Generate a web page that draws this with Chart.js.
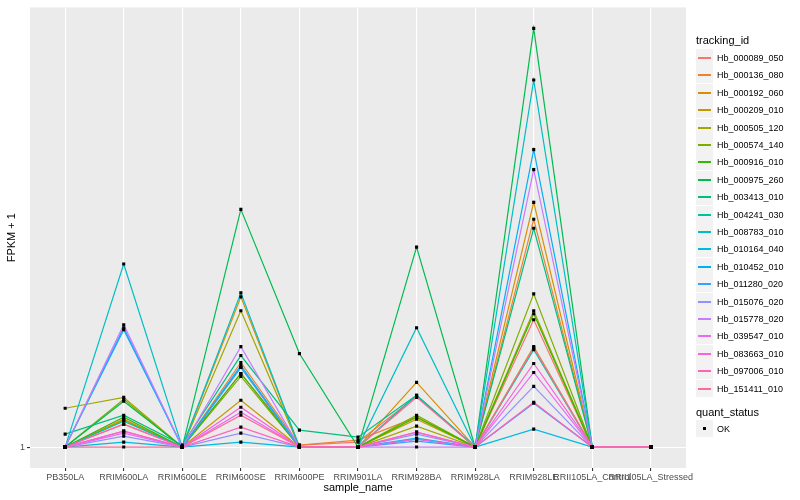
<!DOCTYPE html>
<html>
<head>
<meta charset="utf-8">
<script src="https://cdn.jsdelivr.net/npm/chart.js@4.4.1/dist/chart.umd.min.js"></script>
<style>
    body { margin: 0; background: #fff; font-family: "Liberation Sans", Arial, sans-serif; }
    #wrap { position: relative; width: 800px; height: 500px; }
    #legend { position: absolute; left: 696px; top: 0; width: 104px; height: 500px; font-size: 9px; color: #000; }
    .ttl { position: absolute; left: 0; font-size: 11px; line-height: 14px; }
    .row { position: absolute; left: 0; height: 17px; display: flex; align-items: center; }
    .key { width: 17px; height: 17px; background: #F2F2F2; position: relative; margin-right: 4px; }
    .key i { position: absolute; left: 2px; right: 2px; top: 8px; height: 2px; }
    .key b { position: absolute; left: 7px; top: 7px; width: 3px; height: 3px; background: #000; }
</style>
</head>
<body>
<div id="wrap">
    <canvas id="chart" width="800" height="500"></canvas>
    <div id="legend"></div>
</div>
<script>
// data (FPKM + 1)
const sampleNames = ['PB350LA', 'RRIM600LA', 'RRIM600LE', 'RRIM600SE', 'RRIM600PE', 'RRIM901LA',
    'RRIM928BA', 'RRIM928LA', 'RRIM928LE', 'RRII105LA_Control', 'RRII105LA_Stressed'];
const trackingIds = ['Hb_000089_050', 'Hb_000136_080', 'Hb_000192_060', 'Hb_000209_010', 'Hb_000505_120',
    'Hb_000574_140', 'Hb_000916_010', 'Hb_000975_260', 'Hb_003413_010', 'Hb_004241_030',
    'Hb_008783_010', 'Hb_010164_040', 'Hb_010452_010', 'Hb_011280_020', 'Hb_015076_020',
    'Hb_015778_020', 'Hb_039547_010', 'Hb_083663_010', 'Hb_097006_010', 'Hb_151411_010'];
const colors = ['#F8766D', '#EA8331', '#D89000', '#C09B00', '#A3A500', '#7CAE00', '#39B600', '#00BB4E',
    '#00BF7D', '#00C1A3', '#00BFC4', '#00BAE0', '#00B0F6', '#35A2FF', '#9590FF', '#C77CFF',
    '#E76BF3', '#FA62DB', '#FF62BC', '#FF6A98'];
const fpkm = [
    [1, 5, 1, 19.5, 1.5, 2.25, 13.75, 1, 33, 1, 1],
    [1, 6.75, 1, 22.25, 1.5, 2.75, 8.5, 1, 58.25, 1, 1],
    [1, 8, 1, 38.75, 1, 1, 17.25, 1, 62.5, 1, 1],
    [1, 7.75, 1, 12.75, 1, 1, 8, 1, 26.25, 1, 1],
    [10.75, 13.5, 1, 35.25, 1, 1, 6.25, 1, 35.25, 1, 1],
    [1, 13, 1, 18.75, 1, 1, 9, 1, 39.5, 1, 1],
    [1, 8.5, 1, 19.5, 1, 1, 8.5, 1, 34.5, 1, 1],
    [1, 12.5, 1, 60.75, 24.5, 1, 51.25, 1, 106.25, 1, 1],
    [4.25, 9, 1.5, 24, 5.25, 3.5, 14, 1, 56, 1, 1],
    [1, 7.5, 1, 21, 1, 1, 14, 1, 25.5, 1, 1],
    [1, 47, 1, 39.75, 1, 1, 31, 1, 93.25, 1, 1],
    [1, 2.25, 1, 2.25, 1, 1, 3.25, 1, 5.5, 1, 1],
    [1, 30.5, 1, 21.5, 1, 1, 3, 1, 75.75, 1, 1],
    [1, 31, 1, 21, 1, 1, 2.5, 1, 12, 1, 1],
    [1, 3.75, 1, 4.5, 1, 1, 4.25, 1, 16.25, 1, 1],
    [1, 31.75, 1, 26.25, 1, 1, 1, 1, 70.75, 1, 1],
    [1, 4.5, 1, 9.75, 1, 1, 4.75, 1, 19.75, 1, 1],
    [1, 5, 1, 11, 1, 1, 3, 1, 22, 1, 1],
    [1, 6.75, 1, 6, 1, 1, 4.75, 1, 12.25, 1, 1],
    [1, 1, 1, 9, 1, 1, 13.5, 1, 26, 1, 1]
];
const yTicks = [1];

const FONT = '"Liberation Sans", Arial, sans-serif';

// panel background like ggplot
const panelBg = {
    id: 'panelBg',
    beforeDraw(chart) {
        const a = chart.chartArea, ctx = chart.ctx;
        ctx.save();
        ctx.fillStyle = '#EBEBEB';
        ctx.fillRect(a.left, a.top, a.right - a.left, a.bottom - a.top);
        ctx.restore();
    }
};

const datasets = fpkm.map((vals, i) => ({
    label: trackingIds[i],
    data: vals.map((v, j) => ({ x: j, y: v })),
    borderColor: colors[i],
    borderWidth: 1.2,
    pointRadius: 0,
    fill: false,
    tension: 0,
    order: 100 - i
}));
datasets.push({
    label: 'OK',
    data: fpkm.flatMap(vals => vals.map((v, j) => ({ x: j, y: v }))),
    showLine: false,
    pointStyle: 'rect',
    pointRadius: 2.2,
    pointBackgroundColor: '#000',
    pointBorderWidth: 0,
    order: 0
});

const allVals = fpkm.flat();
const yLo = Math.min(...allVals), yHi = Math.max(...allVals);
const pad = (yHi - yLo) * 0.05;

new Chart(document.getElementById('chart'), {
    type: 'line',
    data: { datasets: datasets },
    plugins: [panelBg],
    options: {
        responsive: false,
        animation: false,
        layout: { padding: { top: 5, right: 114, left: 0, bottom: 0 } },
        plugins: { legend: { display: false }, tooltip: { enabled: false } },
        scales: {
            x: {
                type: 'linear',
                min: -0.6,
                max: sampleNames.length - 1 + 0.6,
                afterBuildTicks: s => { s.ticks = sampleNames.map((n, i) => ({ value: i })); },
                afterFit: s => { s.height = 32; },
                ticks: {
                    autoSkip: false, maxRotation: 0, minRotation: 0, padding: 1,
                    color: '#4D4D4D', font: { family: FONT, size: 9 },
                    callback: v => sampleNames[v]
                },
                grid: { color: '#FFFFFF', lineWidth: 1.1, tickColor: '#333333', tickLength: 3 },
                border: { display: false },
                title: {
                    display: true, text: 'sample_name', color: '#000',
                    font: { family: FONT, size: 11 }, padding: { top: 0, bottom: 5 }
                }
            },
            y: {
                type: 'linear',
                min: yLo - pad,
                max: yHi + pad,
                afterBuildTicks: s => { s.ticks = yTicks.map(v => ({ value: v })); },
                afterFit: s => { s.width = 30; },
                ticks: { color: '#4D4D4D', font: { family: FONT, size: 9 }, padding: 2 },
                grid: { color: '#FFFFFF', lineWidth: 1.1, tickColor: '#333333', tickLength: 3 },
                border: { display: false },
                title: {
                    display: true, text: 'FPKM + 1', color: '#000',
                    font: { family: FONT, size: 11, lineHeight: 2 }, padding: { top: 1, bottom: 0 }
                }
            }
        }
    }
});

// legend built from the same arrays
const legend = document.getElementById('legend');
let html = '<div class="ttl" style="top:33px">tracking_id</div>';
trackingIds.forEach((id, i) => {
    const top = Math.round(49 + i * 17.4);
    html += '<div class="row" style="top:' + top + 'px"><div class="key"><i style="background:' +
        colors[i] + '"></i></div>' + id + '</div>';
});
html += '<div class="ttl" style="top:405px">quant_status</div>';
html += '<div class="row" style="top:420px"><div class="key"><b></b></div>OK</div>';
legend.innerHTML = html;
</script>
</body>
</html>
